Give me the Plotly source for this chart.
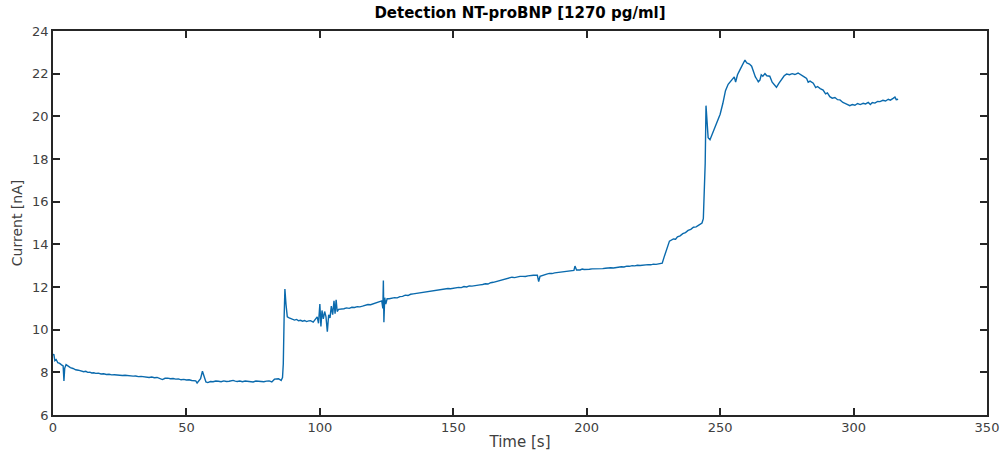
import plotly.graph_objects as go

# Time [s]
t = [0, 0.3, 0.7, 1.2, 1.8, 2.5, 3.2, 3.8, 4.1, 4.4, 4.9, 5.5, 6.5, 7.5, 8.5, 9.5, 10.5, 11.5, 12.3, 13, 13.8, 14.5,
     15.3, 16, 17, 18, 19, 20, 21, 22, 23, 24, 25, 26, 27, 28, 29, 30, 31, 32, 33, 34, 35, 36, 37, 38, 39, 40, 41, 42, 43, 44, 45, 46, 47, 48, 49, 50, 51, 52,
     53.5, 54, 54.6, 55.3, 56, 56.6, 57.3, 58, 59, 60, 61, 62, 63, 64, 65, 66, 67.5, 68.3, 69, 70, 71, 72, 73, 74, 75, 76, 77, 78, 79, 80, 81,
     82, 83, 84.5, 85.5, 86, 86.3, 86.6, 86.9, 87.3, 87.8, 88.5, 89.5, 90.5, 91.3, 92, 92.8, 93.5, 94.3, 95, 95.8, 96.5, 97.5, 98.5, 99,
     99.5, 100, 100.4, 100.8, 101.3, 101.8, 102.3, 102.8, 103.3, 103.8, 104.3, 104.8, 105.3, 105.7, 106.1, 106.5, 107, 108, 109, 110, 111, 112,
     113, 114, 115, 116, 117, 118, 119, 120, 121, 122, 123.2, 123.6, 123.8, 124.0, 124.3, 124.7, 125.2, 126, 127, 128, 129, 130, 131, 132, 133, 134, 135, 136, 137, 138, 139, 140,
     141, 142, 143, 144, 145, 146, 147, 148, 149, 150, 151, 152, 153, 154, 155, 156, 157, 158, 159, 160, 161, 162, 163, 164, 165, 166, 167, 168, 169, 170, 171, 172, 173, 174, 175, 176, 177, 178, 179, 180,
     181.5, 182, 182.5, 184, 185, 186, 187, 188, 189, 190, 191, 192, 193, 194, 195.2, 195.6, 196.2, 197.5, 198.3, 199, 200, 201, 202, 203, 204, 205, 206, 207, 208, 209, 210, 211,
     212, 213, 214, 215, 216, 217, 218, 219, 220, 221, 222, 223, 224, 225, 226, 227, 228.3, 229, 229.9, 231, 232.5, 233.3, 234, 235, 236, 237, 238, 239, 240, 241, 242, 243.2, 243.7,
     244, 244.4, 244.7, 245.1, 245.5, 246.2, 247, 248, 249, 250, 251, 252, 253, 254.3, 255.3, 255.8, 256.5, 257.5, 258.5, 259.3,
     260, 261, 261.8, 262.5, 263.2, 263.7, 264.3, 264.9, 265.4, 266, 266.8, 267.5, 268.6, 269.5, 270.3, 271.1, 272, 273, 274, 274.9,
     276, 277, 278, 279.2, 280.5, 281.5, 282.4, 283, 283.7, 284.9, 285.8, 286.5, 287.5, 288.6, 289.5, 290.2, 291.1, 292, 293, 294,
     294.9, 296, 297, 298.6, 299.5, 300.5, 301.5, 302.5, 303.6, 304.5, 305.5, 306.3, 307, 308, 309, 309.9, 311, 312, 313, 313.8,
     314.8, 315.5, 316, 316.7]

# Current [nA]
current = [8.8, 8.85, 8.55, 8.6, 8.45, 8.42, 8.35, 8.3, 7.6, 8.2, 8.36, 8.3, 8.22, 8.18, 8.12, 8.1, 8.05, 8.03, 8.05, 8.0, 8.01, 7.97,
           7.98, 7.95, 7.96, 7.92, 7.93, 7.9, 7.91, 7.88, 7.89, 7.87, 7.88, 7.85, 7.86, 7.84, 7.85, 7.82, 7.83, 7.8, 7.81, 7.79, 7.8, 7.76, 7.78, 7.75, 7.76, 7.72, 7.66, 7.72, 7.73, 7.7, 7.71, 7.68, 7.69, 7.65, 7.67, 7.64, 7.65, 7.62,
           7.6, 7.5, 7.6, 7.7, 8.05, 7.85, 7.55, 7.52, 7.57, 7.56, 7.59, 7.58, 7.56, 7.6, 7.57, 7.58, 7.62, 7.59, 7.57, 7.59, 7.56, 7.59, 7.58, 7.55, 7.55, 7.59, 7.58, 7.56, 7.56, 7.59, 7.6,
           7.55, 7.68, 7.7, 7.62, 7.75, 8.4, 10.5, 11.9, 11.2, 10.6, 10.55, 10.5, 10.45, 10.48, 10.42, 10.44, 10.4, 10.43, 10.38, 10.41, 10.42, 10.35, 10.5, 10.6,
           10.3, 11.2, 10.15, 10.9, 10.5, 10.85, 10.6, 9.9, 10.7, 10.55, 11.1, 10.7, 11.35, 10.75, 11.4, 10.85, 10.95, 10.95, 10.98, 11.02, 11.0, 11.05,
           11.04, 11.08, 11.07, 11.1, 11.14, 11.18, 11.17, 11.22, 11.26, 11.3, 11.35, 11.0, 12.3, 10.35, 11.5, 11.2, 11.45, 11.45, 11.48, 11.5, 11.49, 11.55, 11.56, 11.62, 11.6, 11.66, 11.68, 11.7, 11.69, 11.74, 11.76, 11.78,
           11.77, 11.8, 11.83, 11.86, 11.85, 11.9, 11.89, 11.93, 11.92, 11.95, 11.97, 11.98, 11.97, 12.02, 12.0, 12.05, 12.04, 12.07, 12.09, 12.1, 12.12, 12.15, 12.14, 12.2, 12.22, 12.25, 12.28, 12.32, 12.35, 12.4, 12.42, 12.46, 12.44, 12.48, 12.5, 12.5, 12.49, 12.52, 12.54, 12.55,
           12.55, 12.25, 12.5, 12.58, 12.6, 12.64, 12.63, 12.66, 12.68, 12.7, 12.69, 12.72, 12.74, 12.75, 12.78, 12.98, 12.8, 12.8, 12.84, 12.82, 12.81, 12.83, 12.85, 12.85, 12.84, 12.87, 12.86, 12.88, 12.9, 12.9, 12.89, 12.92,
           12.93, 12.95, 12.94, 12.98, 12.97, 13.0, 12.99, 13.02, 13.01, 13.03, 13.05, 13.05, 13.04, 13.07, 13.06, 13.1, 13.12, 13.4, 13.75, 14.15, 14.25, 14.24, 14.35, 14.4, 14.5, 14.55, 14.65, 14.7, 14.8, 14.82, 14.9, 15.0, 15.2,
           16.5, 17.8, 20.5, 19.5, 19.0, 18.9, 19.15, 19.45, 19.75, 20.1, 20.6, 21.2, 21.5, 21.7, 21.85, 21.6, 21.95, 22.2, 22.45, 22.64,
           22.5, 22.45, 22.35, 22.05, 21.85, 21.75, 21.62, 21.7, 21.95, 21.88, 22.0, 21.9, 21.88, 21.6, 21.45, 21.36, 21.55, 21.75, 21.9, 21.98,
           21.95, 22.0, 21.96, 22.03, 21.95, 21.85, 21.78, 21.6, 21.65, 21.55, 21.35, 21.4, 21.3, 21.23, 21.05, 21.1, 20.92, 20.85, 20.88, 20.78,
           20.77, 20.65, 20.6, 20.5, 20.55, 20.52, 20.6, 20.55, 20.61, 20.58, 20.65, 20.55, 20.65, 20.62, 20.7, 20.69, 20.75, 20.72, 20.8, 20.76,
           20.84, 20.9, 20.78, 20.8]

x_ticks = [0, 50, 100, 150, 200, 250, 300, 350]
y_ticks = [6, 8, 10, 12, 14, 16, 18, 20, 22, 24]

fig = go.Figure()
fig.add_trace(go.Scatter(x=t, y=current, mode="lines",
                         line=dict(color="#0a6aad", width=1.4), showlegend=False))

axis_common = dict(showline=True, linecolor="#262626", linewidth=1.5, mirror="ticks",
                   ticks="inside", ticklen=7, tickwidth=1.5, tickcolor="#262626",
                   showgrid=False, zeroline=False, automargin=False,
                   tickfont=dict(family="DejaVu Sans", size=13, color="#404040"))

fig.update_layout(
    width=1001, height=452,
    margin=dict(l=53, r=14, t=31, b=37),
    paper_bgcolor="white", plot_bgcolor="white",
    title=dict(text="<b>Detection NT-proBNP [1270 pg/ml]</b>", xref="paper", x=0.5, xanchor="center",
               yref="container", y=1 - 13 / 452, yanchor="middle",
               font=dict(family="DejaVu Sans", size=15, color="#000000")),
    xaxis=dict(range=[0, 350], tickvals=x_ticks, title=dict(text="Time [s]", standoff=2,
               font=dict(family="DejaVu Sans", size=15, color="#404040")), **axis_common),
    yaxis=dict(range=[6, 24], tickvals=y_ticks, title=dict(text="Current [nA]", standoff=6,
               font=dict(family="DejaVu Sans", size=14, color="#404040")), **axis_common),
)

fig.write_html("out.html", config={"displayModeBar": False},
               post_script="document.body.style.margin='0';document.body.style.overflow='hidden';")
